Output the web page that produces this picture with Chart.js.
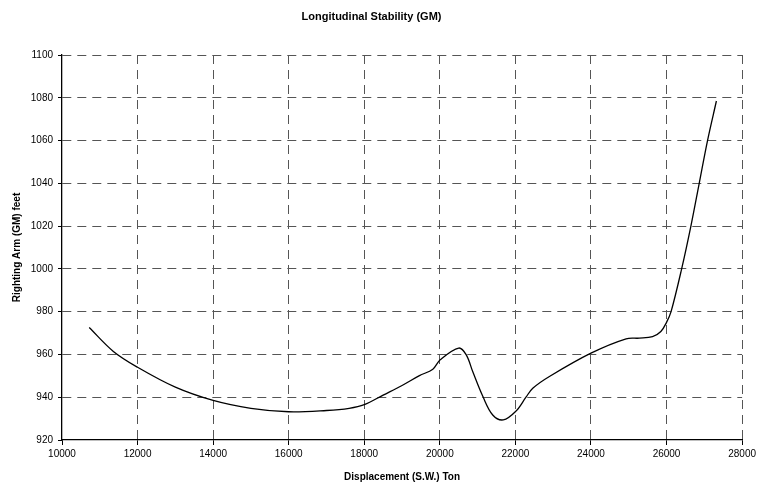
<!DOCTYPE html>
<html>
<head>
<meta charset="utf-8">
<script src="https://cdn.jsdelivr.net/npm/chart.js@4"></script>
<style>
  html, body { margin: 0; padding: 0; background: #fff; }
  canvas { display: block; }
</style>
</head>
<body>
<canvas id="myChart" width="759" height="483"></canvas>
<script>
// displacement (S.W.) ton
const displacement = [10720, 11360, 12000, 13000, 14000, 15000, 16000, 17000, 17600, 18000,
  18500, 19000, 19460, 19815, 20010, 20500, 20700, 20870, 21140, 21400,
  21680, 22020, 22280, 22460, 22900, 24000, 24930, 25280, 25630, 25850,
  26000, 26120, 26400, 26645, 26865, 27085, 27320];
// righting arm (GM) feet
const gm = [972.6, 961.4, 954, 944.7, 938.5, 934.8, 933.2, 933.8, 934.8, 936.5,
  941, 945.5, 950.1, 953.1, 957.5, 963, 959.8, 952, 940.3, 931.7,
  929.4, 933.6, 940, 944.2, 949.7, 960.6, 967.3, 967.6, 968.3, 970.7,
  975, 980, 1000, 1020, 1040, 1060, 1078.5];

const xTicks = [10000, 12000, 14000, 16000, 18000, 20000, 22000, 24000, 26000, 28000];
const yTicks = [920, 940, 960, 980, 1000, 1020, 1040, 1060, 1080, 1100];

const font = 'Liberation Sans, Arial, sans-serif';

function createChart(id) {
  const ctx = document.getElementById(id);
  const points = displacement.map((d, i) => ({x: d, y: gm[i]}));

  new Chart(ctx, {
    type: 'scatter',
    data: {
      datasets: [{
        label: 'GM',
        data: points,
        showLine: true,
        borderColor: '#000',
        borderWidth: 1.3,
        pointRadius: 0,
        tension: 0.35
      }]
    },
    options: {
      responsive: false,
      animation: false,
      layout: { padding: { left: 0, right: 16, top: 0, bottom: 0 } },
      plugins: {
        legend: { display: false },
        tooltip: { enabled: false },
        title: {
          display: true,
          text: 'Longitudinal Stability (GM)',
          color: '#000',
          font: { family: font, size: 11, weight: 'bold', lineHeight: 1.2 },
          padding: { top: 10, bottom: 31.8 }
        }
      },
      scales: {
        x: {
          type: 'linear',
          min: xTicks[0],
          max: xTicks[xTicks.length - 1],
          afterBuildTicks: s => { s.ticks = xTicks.map(v => ({value: v})); },
          afterFit: s => { s.height = 43; },
          border: { display: true, color: '#000', width: 1.3, dash: [9, 6] },
          grid: {
            // the first line sits on the y axis, keep that one solid
            color: c => (c.tick && c.tick.value === xTicks[0]) ? 'rgba(0,0,0,0)' : '#555',
            lineWidth: 1, tickLength: 5, tickColor: '#000', tickBorderDash: []
          },
          ticks: {
            color: '#000', padding: 3,
            font: { family: font, size: 10 },
            callback: v => String(v)
          },
          title: {
            display: true,
            text: 'Displacement (S.W.) Ton',
            color: '#000',
            font: { family: font, size: 10, weight: 'bold', lineHeight: 1.2 },
            padding: { top: 7, bottom: 0 }
          }
        },
        y: {
          type: 'linear',
          min: yTicks[0],
          max: yTicks[yTicks.length - 1],
          afterBuildTicks: s => { s.ticks = yTicks.map(v => ({value: v})); },
          afterFit: s => { s.width = 62; },
          border: { display: true, color: '#000', width: 1.3, dash: [9, 6] },
          grid: {
            color: c => (c.tick && c.tick.value === yTicks[0]) ? 'rgba(0,0,0,0)' : '#555',
            lineWidth: 1, tickLength: 4, tickColor: '#000', tickBorderDash: []
          },
          ticks: {
            color: '#000', padding: 5,
            font: { family: font, size: 10 },
            callback: v => String(v)
          },
          title: {
            display: true,
            text: 'Righting Arm (GM) feet',
            color: '#000',
            font: { family: font, size: 10, weight: 'bold', lineHeight: 1.2 },
            padding: { top: 11, bottom: 0 }
          }
        }
      }
    }
  });
}

createChart('myChart');
</script>
</body>
</html>
